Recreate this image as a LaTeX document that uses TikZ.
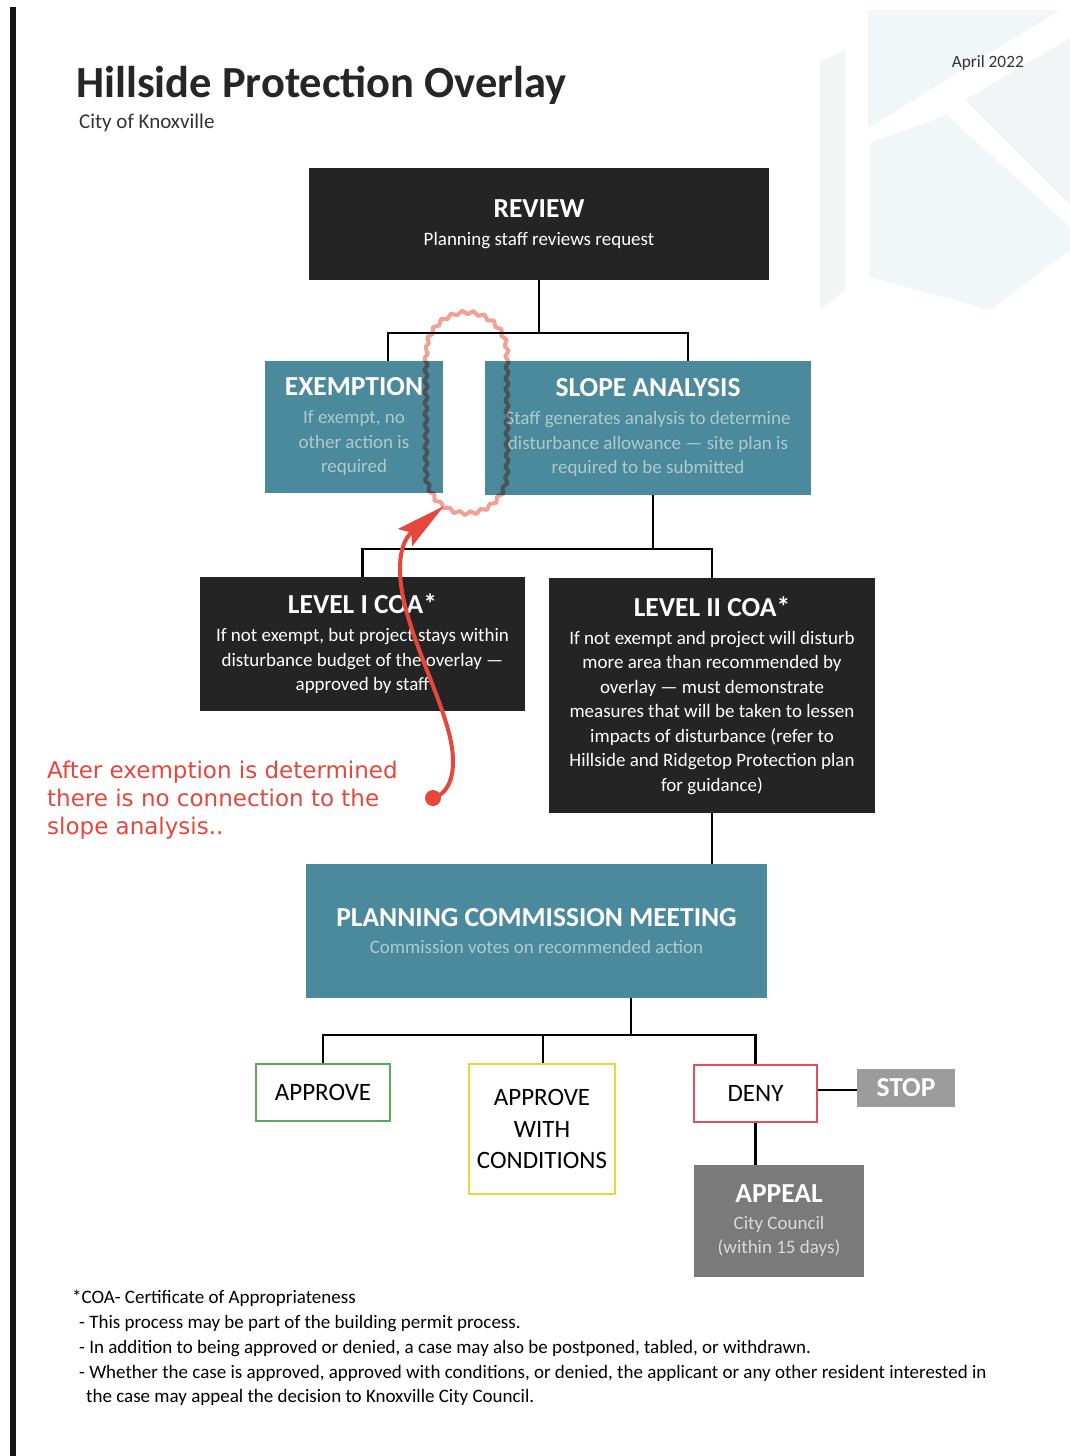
\documentclass[tikz,border=0pt]{standalone}
\usepackage{fontspec}
\setmainfont{Carlito}
\newfontfamily\redfont{DejaVu Sans}
\usetikzlibrary{arrows.meta,decorations.pathmorphing}
\definecolor{tealbox}{HTML}{4B899C}
\definecolor{tealtxt}{HTML}{AECAD1}
\definecolor{darkbox}{HTML}{242424}
\definecolor{grnb}{HTML}{5AAA5E}
\definecolor{yelb}{HTML}{F1D33C}
\definecolor{redb}{HTML}{E2505A}
\definecolor{stopg}{HTML}{9C9C9C}
\definecolor{appg}{HTML}{7A7A7A}
\definecolor{apptxt}{HTML}{DADADA}
\definecolor{annred}{HTML}{E5473C}
\definecolor{cloudc}{HTML}{F2A093}
\definecolor{bgblue}{HTML}{F1F6F9}
\definecolor{bggray}{HTML}{F3F4F5}
\newcommand\boxtitle[1]{{\color{white}\fontsize{27.5}{28}\selectfont\bfseries #1}}
\begin{document}
\begin{tikzpicture}[x=1pt,y=-1pt,
  box/.style={rectangle, inner sep=0pt, align=center, font=\fontsize{19}{24.5}\selectfont},
  darkstyle/.style={box, fill=darkbox, text=white},
  tealstyle/.style={box, fill=tealbox, text=tealtxt},
  outcome/.style={rectangle, inner sep=0pt, align=center, fill=white, line width=2.5pt, font=\fontsize{25}{31.5}\selectfont},
  conn/.style={line width=2.5pt, black},
  foot/.style={anchor=base west, inner sep=0pt, font=\fontsize{19}{22}\selectfont}]
\useasboundingbox (0,0) rectangle (1070,1456);
\fill[white] (0,0) rectangle (1070,1456);
% faint background logo
\fill[bgblue] (868,10) -- (1060,10) -- (868,128) -- cycle;
\fill[bggray] (965,100) -- (1070,38) -- (1070,205) -- cycle;
\fill[bgblue] (870,143) -- (947,115) -- (1070,227) -- (1070,250) -- (990,310) -- (870,277) -- cycle;
\fill[bggray] (820,62) -- (845,50) -- (845,290) -- (820,310) -- cycle;
% left bar
\fill[black!92] (10,7) rectangle (16,1456);
% header
\node[anchor=base west, inner sep=0pt, font=\fontsize{44.5}{48}\selectfont\bfseries, text=black!85] (title) at (76,97) {Hillside Protection Overlay};
\node[anchor=base west, inner sep=0pt, font=\fontsize{21}{24}\selectfont, text=black!80] (subtitle) at (79,128) {City of Knoxville};
\node[anchor=base east, inner sep=0pt, font=\fontsize{17.3}{20}\selectfont, text=black!80] (date) at (1024,67) {April 2022};
% boxes
\node[darkstyle, minimum width=460pt, minimum height=112pt] (review) at (539,224)
  {\boxtitle{REVIEW}\\[3.5pt] Planning staff reviews request};
\node[tealstyle, minimum width=178pt, minimum height=132pt] (exemption) at (354,427)
  {\boxtitle{EXEMPTION}\\[3.5pt] If exempt, no\\ other action is\\ required};
\node[tealstyle, minimum width=326pt, minimum height=134pt] (slope) at (648,428)
  {\boxtitle{SLOPE ANALYSIS}\\[3.5pt] Staff generates analysis to determine\\ disturbance allowance --- site plan is\\ required to be submitted};
\node[darkstyle, minimum width=325pt, minimum height=134pt] (level1) at (362.5,644)
  {\boxtitle{LEVEL I COA*}\\[3.5pt] If not exempt, but project stays within\\ disturbance budget of the overlay ---\\ approved by staff};
\node[darkstyle, minimum width=326pt, minimum height=235pt] (level2) at (712,695.5)
  {\boxtitle{LEVEL II COA*}\\[3.5pt] If not exempt and project will disturb\\ more area than recommended by\\ overlay --- must demonstrate\\ measures that will be taken to lessen\\ impacts of disturbance (refer to\\ Hillside and Ridgetop Protection plan\\ for guidance)};
\node[tealstyle, minimum width=461pt, minimum height=134pt] (pcm) at (536.5,931)
  {\boxtitle{PLANNING COMMISSION MEETING}\\[2.5pt] Commission votes on recommended action};
\node[outcome, draw=grnb, minimum width=134pt, minimum height=57pt] (approve) at (323,1092.5) {APPROVE};
\node[outcome, draw=yelb, minimum width=146pt, minimum height=130pt] (awc) at (542,1129) {APPROVE\\ WITH\\ CONDITIONS};
\node[outcome, draw=redb, minimum width=123pt, minimum height=57pt] (deny) at (755.5,1093.5) {DENY};
\node[box, fill=stopg, minimum width=98pt, minimum height=38pt, text=white, font=\fontsize{27.5}{28}\selectfont\bfseries] (stop) at (906,1088) {STOP};
\node[box, fill=appg, text=apptxt, minimum width=170pt, minimum height=112pt] (appeal) at (779,1221)
  {\boxtitle{APPEAL}\\[2pt] City Council\\ (within 15 days)};
% connectors
\coordinate (j1) at (539,333);
\coordinate (j2) at (653,549);
\coordinate (j3) at (631,1035);
\draw[conn] (review.south) -- (j1);
\draw[conn] ([xshift=34pt]exemption.north) |- (j1) -| ([xshift=40pt]slope.north);
\draw[conn] ([xshift=5pt]slope.south) -- (j2);
\draw[conn] (level1.north) |- (j2) -| (level2.north);
\draw[conn] (level2.south) -- (level2.south |- pcm.north);
\draw[conn] ([xshift=94.5pt]pcm.south) -- (j3);
\draw[conn] (approve.north) |- (j3) -| (deny.north);
\draw[conn] ([xshift=1pt]awc.north) -- ([xshift=1pt]awc.north |- j3);
\draw[conn] ([yshift=3.5pt]deny.east) -- ([yshift=3.5pt]deny.east -| stop.west);
\draw[conn] (deny.south) -- (deny.south |- appeal.north);
% annotation cloud
\begin{scope}[blend mode=multiply]
\draw[cloudc, line width=4pt, line join=round,
  decorate, decoration={snake, amplitude=1.8pt, segment length=11pt}]
  (426,350) -- (426,470) arc[start angle=180, end angle=360, radius=40.5pt]
  -- (507,350) arc[start angle=0, end angle=180, radius=40.5pt] -- cycle;
\end{scope}
% annotation arrow
\coordinate (dotpt) at (433,798);
\coordinate (tip) at (444,506);
\fill[annred] (dotpt) circle (8pt);
\draw[annred, line width=4pt, -{Stealth[length=50pt, width=22pt, inset=8pt]}]
  (dotpt) .. controls (448,794) and (456,776) .. (452,748)
  .. controls (447,712) and (420,660) .. (406,610)
  .. controls (398,580) and (396,545) .. (tip);
\node[anchor=west, inner sep=0pt, align=left, text=annred, font=\redfont\fontsize{23}{28}\selectfont] (note) at (47,800)
  {After exemption is determined\\ there is no connection to the\\ slope analysis..};
% footnotes
\node[foot] (f1) at (72,1303) {*COA- Certificate of Appropriateness};
\node[foot] (f2) at (79,1328) {- This process may be part of the building permit process.};
\node[foot] (f3) at (79,1353) {- In addition to being approved or denied, a case may also be postponed, tabled, or withdrawn.};
\node[foot] (f4) at (79,1378) {- Whether the case is approved, approved with conditions, or denied, the applicant or any other resident interested in};
\node[foot] (f5) at (86,1402) {the case may appeal the decision to Knoxville City Council.};
\end{tikzpicture}
\end{document}
